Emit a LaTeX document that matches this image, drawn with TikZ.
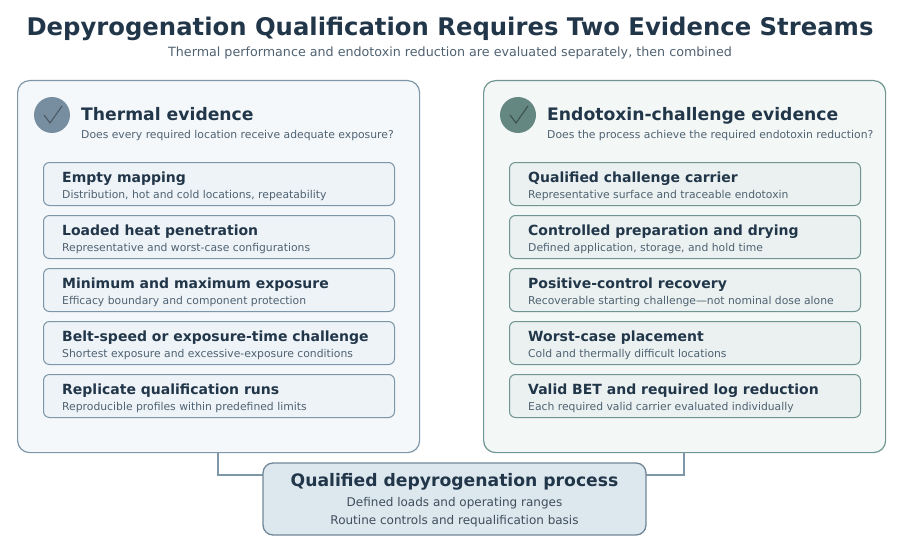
\documentclass[tikz,border=0pt]{standalone}
\usepackage{fontspec}
\setmainfont{DejaVu Sans}
\usetikzlibrary{positioning}
\definecolor{ink}{HTML}{22364A}
\definecolor{muted}{HTML}{4F6272}
\definecolor{tline}{HTML}{7D96A8}
\definecolor{eline}{HTML}{6F9690}
\definecolor{tfill}{HTML}{F4F8FB}
\definecolor{efill}{HTML}{F3F7F6}
\definecolor{tbox}{HTML}{EEF3F7}
\definecolor{ebox}{HTML}{EAF1F0}
\definecolor{qfill}{HTML}{DCE7EE}

\begin{document}
\begin{tikzpicture}[x=1pt, y=-1pt,
PanelStyle/.style={rounded corners=12pt, line width=1.2pt, minimum width=402pt, minimum height=372pt, anchor=north west},
ItemStyle/.style={rounded corners=6pt, line width=1pt, minimum width=351pt, minimum height=43pt, anchor=north west},
ItemHead/.style={anchor=base west, font=\bfseries\fontsize{14}{16}\selectfont, text=ink, inner sep=0pt},
ItemText/.style={anchor=base west, font=\fontsize{10.8}{12}\selectfont, text=muted, inner sep=0pt}]
\useasboundingbox (0,0) rectangle (900,543);
\node[font=\bfseries\fontsize{24.3}{28}\selectfont, text=ink] (title) at (450,29) {Depyrogenation Qualification Requires Two Evidence Streams};
\node[font=\fontsize{12.7}{15}\selectfont, text=muted] (subtitle) at (450,53) {Thermal performance and endotoxin reduction are evaluated separately, then combined};
% panels
\node[PanelStyle, draw=tline, fill=tfill] (thermal) at (17,80) {};
\node[PanelStyle, draw=eline, fill=efill] (endo) at (483,80) {};
\node[circle, minimum size=36pt, fill=tline!95!black] (ticon) at (52,115) {};
\draw[line width=1.1pt, color=tline!60!black] (44,115) -- (50,123) -- (62,106);
\node[circle, minimum size=36pt, fill=eline!90!black] (eicon) at (518,115) {};
\draw[line width=1.1pt, color=eline!55!black] (510,115) -- (516,123) -- (528,106);
\node[ItemHead, font=\bfseries\fontsize{17.2}{19}\selectfont] (thead) at (81,120) {Thermal evidence};
\node[ItemText] (tq) at (81,138) {Does every required location receive adequate exposure?};
\node[ItemHead, font=\bfseries\fontsize{17.2}{19}\selectfont] (ehead) at (547,120) {Endotoxin-challenge evidence};
\node[ItemText] (eq) at (547,138) {Does the process achieve the required endotoxin reduction?};
% thermal items
\node[ItemStyle, draw=tline, fill=tbox] (t1) at (43,162) {};
\node[ItemHead] (t1h) at (62,182) {Empty mapping};
\node[ItemText] (t1t) at (62,198) {Distribution, hot and cold locations, repeatability};
\node[ItemStyle, draw=tline, fill=tbox] (t2) at (43,215) {};
\node[ItemHead] (t2h) at (62,235) {Loaded heat penetration};
\node[ItemText] (t2t) at (62,251) {Representative and worst-case configurations};
\node[ItemStyle, draw=tline, fill=tbox] (t3) at (43,268) {};
\node[ItemHead] (t3h) at (62,288) {Minimum and maximum exposure};
\node[ItemText] (t3t) at (62,304) {Efficacy boundary and component protection};
\node[ItemStyle, draw=tline, fill=tbox] (t4) at (43,321) {};
\node[ItemHead] (t4h) at (62,341) {Belt-speed or exposure-time challenge};
\node[ItemText] (t4t) at (62,357) {Shortest exposure and excessive-exposure conditions};
\node[ItemStyle, draw=tline, fill=tbox] (t5) at (43,374) {};
\node[ItemHead] (t5h) at (62,394) {Replicate qualification runs};
\node[ItemText] (t5t) at (62,410) {Reproducible profiles within predefined limits};
% endotoxin items
\node[ItemStyle, draw=eline, fill=ebox] (e1) at (509,162) {};
\node[ItemHead] (e1h) at (528,182) {Qualified challenge carrier};
\node[ItemText] (e1t) at (528,198) {Representative surface and traceable endotoxin};
\node[ItemStyle, draw=eline, fill=ebox] (e2) at (509,215) {};
\node[ItemHead] (e2h) at (528,235) {Controlled preparation and drying};
\node[ItemText] (e2t) at (528,251) {Defined application, storage, and hold time};
\node[ItemStyle, draw=eline, fill=ebox] (e3) at (509,268) {};
\node[ItemHead] (e3h) at (528,288) {Positive-control recovery};
\node[ItemText] (e3t) at (528,304) {Recoverable starting challenge—not nominal dose alone};
\node[ItemStyle, draw=eline, fill=ebox] (e4) at (509,321) {};
\node[ItemHead] (e4h) at (528,341) {Worst-case placement};
\node[ItemText] (e4t) at (528,357) {Cold and thermally difficult locations};
\node[ItemStyle, draw=eline, fill=ebox] (e5) at (509,374) {};
\node[ItemHead] (e5h) at (528,394) {Valid BET and required log reduction};
\node[ItemText] (e5t) at (528,410) {Each required valid carrier evaluated individually};
% result
\coordinate (tfoot) at (218,452);
\coordinate (efoot) at (684,452);
\draw[line width=1.2pt, color=tline] (tfoot) |- (450,475) -| (efoot);
\node[rounded corners=10pt, line width=1.3pt, draw=tline!90!black, fill=qfill, minimum width=383pt, minimum height=72pt] (result) at (454.5,499) {};
\node[font=\bfseries\fontsize{17.2}{19}\selectfont, text=ink] (resh) at (454.5,482) {Qualified depyrogenation process};
\node[font=\fontsize{12}{14}\selectfont, text=muted!80!black] (res1) at (454.5,503) {Defined loads and operating ranges};
\node[font=\fontsize{12}{14}\selectfont, text=muted!80!black] (res2) at (454.5,521) {Routine controls and requalification basis};
\end{tikzpicture}
\end{document}
